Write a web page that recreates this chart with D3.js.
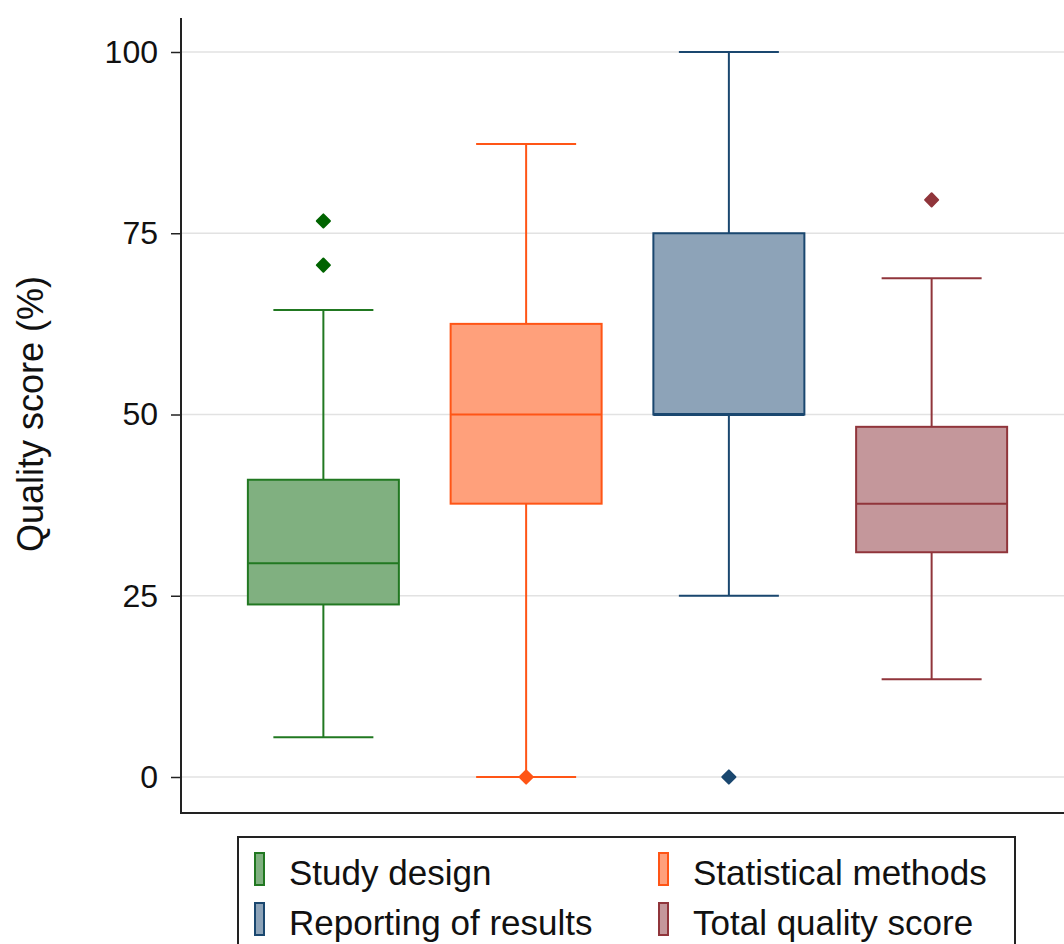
<!DOCTYPE html>
<html>
<head>
<meta charset="utf-8">
<script src="https://cdn.jsdelivr.net/npm/d3@7"></script>
<style>
  body { margin: 0; background: #fff; }
  svg { font-family: "Liberation Sans", Arial, sans-serif; display: block; }
</style>
</head>
<body>
<div id="chart"></div>
<script>
let width = 1064,
    height = 944,
    margin = ({ top: 18, right: 0, bottom: 131, left: 181 });

// data
const groups = ["Study design", "Statistical methods", "Reporting of results", "Total quality score"];
const q1 = [23.8, 37.7, 50, 31.0];
const median = [29.5, 50, 50, 37.7];
const q3 = [41.0, 62.5, 75, 48.3];
const whiskerLow = [5.5, 0, 25, 13.5];
const whiskerHigh = [64.4, 87.3, 100, 68.8];
const outliers = [[76.7, 70.6], [0], [0], [79.6]];
const yTicks = [0, 25, 50, 75, 100];

const strokeCols = ["#217821", "#ff5516", "#1a476f", "#90353b"];
const fillCols = ["#80b080", "#ffa07b", "#8da3b8", "#c4979b"];
const dotCols = ["#006400", "#ff5516", "#1a476f", "#90353b"];

const svg = d3.select("#chart")
  .append("svg")
  .attr("width", width)
  .attr("height", height);

let y = d3.scaleLinear()
  .domain([0, 100])
  .range([777, 52]);

let x = d3.scaleBand()
  .domain(groups)
  .range([222, 1033])
  .paddingInner(0.26)
  .paddingOuter(0.13);

const boxW = 151, capW = 100;

// grid lines
svg.append("g")
  .selectAll("line")
  .data(yTicks)
  .join("line")
  .attr("x1", margin.left)
  .attr("x2", width)
  .attr("y1", d => y(d))
  .attr("y2", d => y(d))
  .attr("stroke", "#e2e2e2")
  .attr("stroke-width", 1.5);

// y axis
let yAxis = svg.append("g")
  .attr("transform", `translate(${margin.left},0)`)
  .call(d3.axisLeft(y)
    .tickValues(yTicks)
    .tickSize(10)
    .tickPadding(13)
    .tickSizeOuter(0));
yAxis.select(".domain").remove();
yAxis.selectAll("line").attr("stroke", "#222").attr("stroke-width", 1.5);
yAxis.selectAll("text")
  .attr("font-size", 32)
  .attr("fill", "#111")
  .attr("font-family", "Liberation Sans, Arial, sans-serif");

// frame
svg.append("line")
  .attr("x1", margin.left).attr("x2", margin.left)
  .attr("y1", margin.top).attr("y2", 813)
  .attr("stroke", "#222").attr("stroke-width", 2);
svg.append("line")
  .attr("x1", margin.left - 1).attr("x2", width)
  .attr("y1", 813).attr("y2", 813)
  .attr("stroke", "#222").attr("stroke-width", 2);

svg.append("text")
  .attr("transform", `translate(43,414) rotate(-90)`)
  .attr("text-anchor", "middle")
  .attr("font-size", 36)
  .attr("fill", "#111")
  .text("Quality score (%)");

// boxes
groups.forEach((g, i) => {
  let cx = x(g) + x.bandwidth() / 2;
  let box = svg.append("g").attr("class", "box");

  box.append("line")
    .attr("x1", cx).attr("x2", cx)
    .attr("y1", y(whiskerHigh[i])).attr("y2", y(q3[i]))
    .attr("stroke", strokeCols[i]).attr("stroke-width", 2);
  box.append("line")
    .attr("x1", cx).attr("x2", cx)
    .attr("y1", y(q1[i])).attr("y2", y(whiskerLow[i]))
    .attr("stroke", strokeCols[i]).attr("stroke-width", 2);

  [whiskerLow[i], whiskerHigh[i]].forEach(v => {
    box.append("line")
      .attr("x1", cx - capW / 2).attr("x2", cx + capW / 2)
      .attr("y1", y(v)).attr("y2", y(v))
      .attr("stroke", strokeCols[i]).attr("stroke-width", 2);
  });

  box.append("rect")
    .attr("x", cx - boxW / 2)
    .attr("y", y(q3[i]))
    .attr("width", boxW)
    .attr("height", y(q1[i]) - y(q3[i]))
    .attr("fill", fillCols[i])
    .attr("stroke", strokeCols[i])
    .attr("stroke-width", 2);

  box.append("line")
    .attr("x1", cx - boxW / 2).attr("x2", cx + boxW / 2)
    .attr("y1", y(median[i])).attr("y2", y(median[i]))
    .attr("stroke", strokeCols[i])
    .attr("stroke-width", i === 2 ? 3 : 2);

  box.selectAll("path.out")
    .data(outliers[i])
    .join("path")
    .attr("class", "out")
    .attr("d", d3.symbol(d3.symbolDiamond2, 110))
    .attr("transform", d => `translate(${cx},${y(d)})`)
    .attr("fill", dotCols[i])
    .attr("stroke", dotCols[i])
    .attr("stroke-width", 2)
    .attr("stroke-linejoin", "round");
});

// legend
let legend = svg.append("g");
legend.append("rect")
  .attr("x", 238).attr("y", 837)
  .attr("width", 777).attr("height", 120)
  .attr("fill", "#fff")
  .attr("stroke", "#222")
  .attr("stroke-width", 2);

const legendPos = [[255, 853], [659, 853], [255, 903], [659, 903]];
groups.forEach((g, i) => {
  let [lx, ly] = legendPos[i];
  legend.append("rect")
    .attr("x", lx).attr("y", ly)
    .attr("width", 9).attr("height", 32)
    .attr("fill", fillCols[i])
    .attr("stroke", strokeCols[i])
    .attr("stroke-width", 2);
  legend.append("text")
    .attr("x", lx + 34)
    .attr("y", ly + 32)
    .attr("font-size", 35)
    .attr("fill", "#111")
    .text(g);
});
</script>
</body>
</html>
